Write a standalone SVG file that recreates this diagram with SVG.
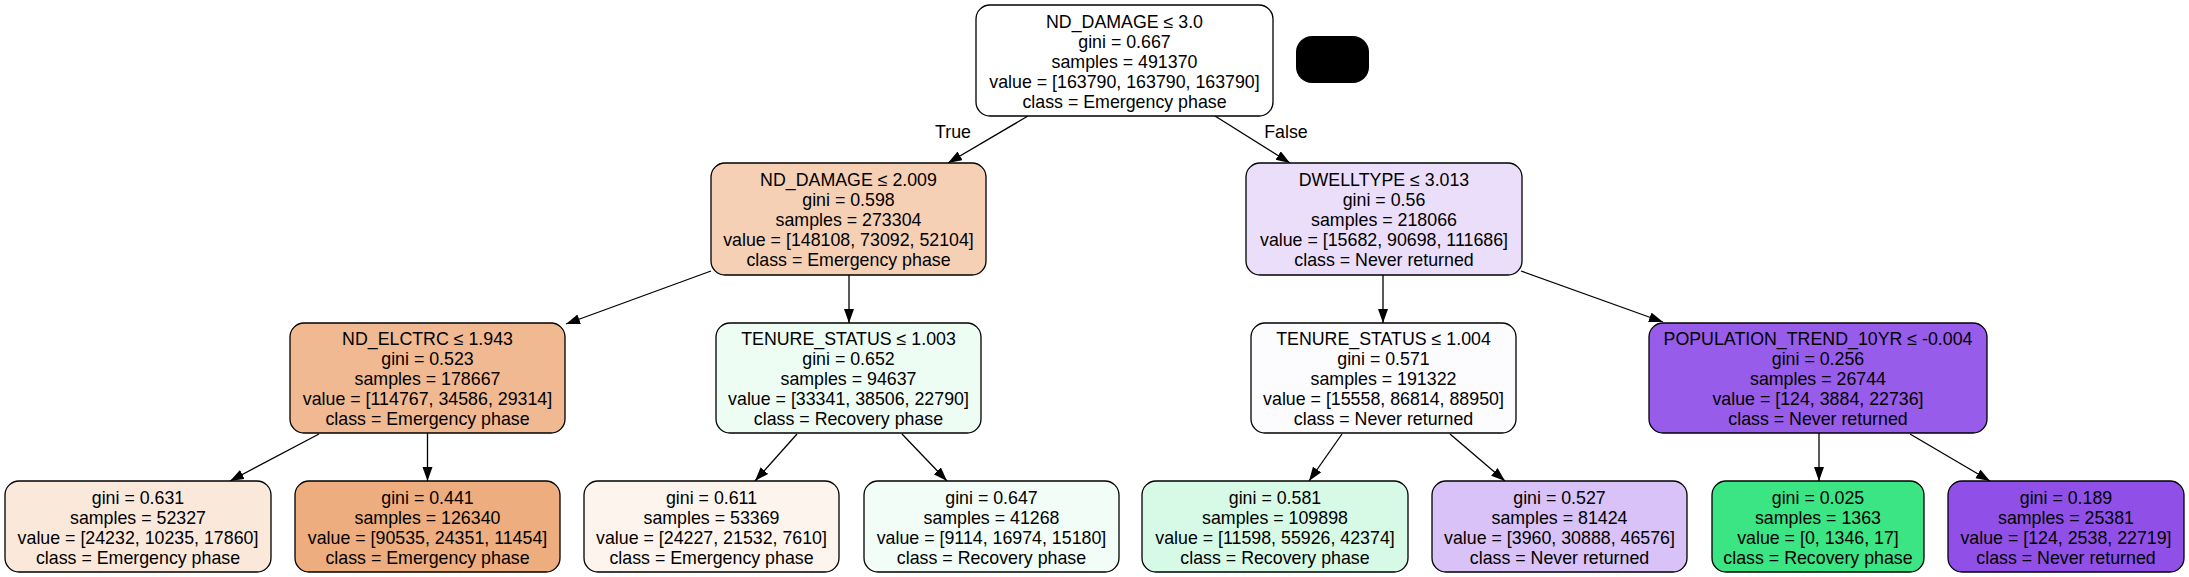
<svg xmlns="http://www.w3.org/2000/svg" width="2189" height="577" viewBox="0 0 2189 577">
<defs>
<marker id="arr" markerUnits="userSpaceOnUse" markerWidth="15" markerHeight="11" refX="14" refY="5" orient="auto">
<path d="M0,0 L14,5 L0,10 z" fill="#000"/>
</marker>
<style>
.box{stroke:#000;stroke-width:1.3}
text{font-family:"Liberation Sans",Arial,Helvetica,sans-serif;font-size:17.8px;fill:#000;text-anchor:middle}
.edge{stroke:#000;stroke-width:1.3;fill:none;marker-end:url(#arr)}
</style>
</defs>
<rect width="2189" height="577" fill="#fff"/>
<g id="connectors">
<line class="edge" x1="1028" y1="116" x2="948" y2="163"/>
<line class="edge" x1="1215" y1="116" x2="1290" y2="163"/>
<line class="edge" x1="711" y1="271" x2="566" y2="324"/>
<line class="edge" x1="849" y1="275" x2="849" y2="323"/>
<line class="edge" x1="1383" y1="275" x2="1383" y2="323"/>
<line class="edge" x1="1521" y1="271" x2="1663" y2="322"/>
<line class="edge" x1="319" y1="434" x2="230" y2="481"/>
<line class="edge" x1="427.5" y1="433" x2="427.5" y2="481"/>
<line class="edge" x1="797" y1="434" x2="755" y2="481"/>
<line class="edge" x1="902" y1="434" x2="947" y2="481"/>
<line class="edge" x1="1342" y1="434" x2="1309" y2="481"/>
<line class="edge" x1="1450" y1="434" x2="1505" y2="481"/>
<line class="edge" x1="1819" y1="433" x2="1819" y2="481"/>
<line class="edge" x1="1910" y1="434" x2="1990" y2="481"/>
<text x="953" y="138">True</text>
<text x="1286" y="138">False</text>
</g>
<g id="n0">
<rect class="box" x="976" y="5" width="297" height="111" rx="14" fill="#ffffff"/>
<text x="1124.5" y="28">ND_DAMAGE ≤ 3.0</text>
<text x="1124.5" y="48">gini = 0.667</text>
<text x="1124.5" y="68">samples = 491370</text>
<text x="1124.5" y="88">value = [163790, 163790, 163790]</text>
<text x="1124.5" y="108">class = Emergency phase</text>
</g>
<g id="legend">
<rect x="1296" y="36" width="73" height="47" rx="16" fill="#000"/>
</g>
<g id="n1">
<rect class="box" x="711" y="163" width="275" height="112" rx="14" fill="#f5d0b5"/>
<text x="848.5" y="186">ND_DAMAGE ≤ 2.009</text>
<text x="848.5" y="206">gini = 0.598</text>
<text x="848.5" y="226">samples = 273304</text>
<text x="848.5" y="246">value = [148108, 73092, 52104]</text>
<text x="848.5" y="266">class = Emergency phase</text>
</g>
<g id="n8">
<rect class="box" x="1246" y="163" width="276" height="112" rx="14" fill="#eadefb"/>
<text x="1384" y="186">DWELLTYPE ≤ 3.013</text>
<text x="1384" y="206">gini = 0.56</text>
<text x="1384" y="226">samples = 218066</text>
<text x="1384" y="246">value = [15682, 90698, 111686]</text>
<text x="1384" y="266">class = Never returned</text>
</g>
<g id="n2">
<rect class="box" x="290" y="323" width="275" height="110" rx="14" fill="#f1b991"/>
<text x="427.5" y="345">ND_ELCTRC ≤ 1.943</text>
<text x="427.5" y="365">gini = 0.523</text>
<text x="427.5" y="385">samples = 178667</text>
<text x="427.5" y="405">value = [114767, 34586, 29314]</text>
<text x="427.5" y="425">class = Emergency phase</text>
</g>
<g id="n5">
<rect class="box" x="716" y="323" width="265" height="110" rx="14" fill="#eefdf4"/>
<text x="848.5" y="345">TENURE_STATUS ≤ 1.003</text>
<text x="848.5" y="365">gini = 0.652</text>
<text x="848.5" y="385">samples = 94637</text>
<text x="848.5" y="405">value = [33341, 38506, 22790]</text>
<text x="848.5" y="425">class = Recovery phase</text>
</g>
<g id="n9">
<rect class="box" x="1251" y="323" width="265" height="110" rx="14" fill="#fcfbfe"/>
<text x="1383.5" y="345">TENURE_STATUS ≤ 1.004</text>
<text x="1383.5" y="365">gini = 0.571</text>
<text x="1383.5" y="385">samples = 191322</text>
<text x="1383.5" y="405">value = [15558, 86814, 88950]</text>
<text x="1383.5" y="425">class = Never returned</text>
</g>
<g id="n12">
<rect class="box" x="1649" y="323" width="338" height="110" rx="14" fill="#975ce9"/>
<text x="1818" y="345">POPULATION_TREND_10YR ≤ -0.004</text>
<text x="1818" y="365">gini = 0.256</text>
<text x="1818" y="385">samples = 26744</text>
<text x="1818" y="405">value = [124, 3884, 22736]</text>
<text x="1818" y="425">class = Never returned</text>
</g>
<g id="n3">
<rect class="box" x="5" y="481" width="266" height="91" rx="14" fill="#fae8da"/>
<text x="138" y="504">gini = 0.631</text>
<text x="138" y="524">samples = 52327</text>
<text x="138" y="544">value = [24232, 10235, 17860]</text>
<text x="138" y="564">class = Emergency phase</text>
</g>
<g id="n4">
<rect class="box" x="295" y="481" width="265" height="91" rx="14" fill="#eead7e"/>
<text x="427.5" y="504">gini = 0.441</text>
<text x="427.5" y="524">samples = 126340</text>
<text x="427.5" y="544">value = [90535, 24351, 11454]</text>
<text x="427.5" y="564">class = Emergency phase</text>
</g>
<g id="n6">
<rect class="box" x="584" y="481" width="255" height="91" rx="14" fill="#fdf4ee"/>
<text x="711.5" y="504">gini = 0.611</text>
<text x="711.5" y="524">samples = 53369</text>
<text x="711.5" y="544">value = [24227, 21532, 7610]</text>
<text x="711.5" y="564">class = Emergency phase</text>
</g>
<g id="n7">
<rect class="box" x="864" y="481" width="255" height="91" rx="14" fill="#f1fdf6"/>
<text x="991.5" y="504">gini = 0.647</text>
<text x="991.5" y="524">samples = 41268</text>
<text x="991.5" y="544">value = [9114, 16974, 15180]</text>
<text x="991.5" y="564">class = Recovery phase</text>
</g>
<g id="n10">
<rect class="box" x="1142" y="481" width="266" height="91" rx="14" fill="#d7fae6"/>
<text x="1275" y="504">gini = 0.581</text>
<text x="1275" y="524">samples = 109898</text>
<text x="1275" y="544">value = [11598, 55926, 42374]</text>
<text x="1275" y="564">class = Recovery phase</text>
</g>
<g id="n11">
<rect class="box" x="1432" y="481" width="255" height="91" rx="14" fill="#d8c2f7"/>
<text x="1559.5" y="504">gini = 0.527</text>
<text x="1559.5" y="524">samples = 81424</text>
<text x="1559.5" y="544">value = [3960, 30888, 46576]</text>
<text x="1559.5" y="564">class = Never returned</text>
</g>
<g id="n13">
<rect class="box" x="1712" y="481" width="212" height="91" rx="14" fill="#3ce583"/>
<text x="1818" y="504">gini = 0.025</text>
<text x="1818" y="524">samples = 1363</text>
<text x="1818" y="544">value = [0, 1346, 17]</text>
<text x="1818" y="564">class = Recovery phase</text>
</g>
<g id="n14">
<rect class="box" x="1948" y="481" width="236" height="91" rx="14" fill="#9050e8"/>
<text x="2066" y="504">gini = 0.189</text>
<text x="2066" y="524">samples = 25381</text>
<text x="2066" y="544">value = [124, 2538, 22719]</text>
<text x="2066" y="564">class = Never returned</text>
</g>
</svg>
